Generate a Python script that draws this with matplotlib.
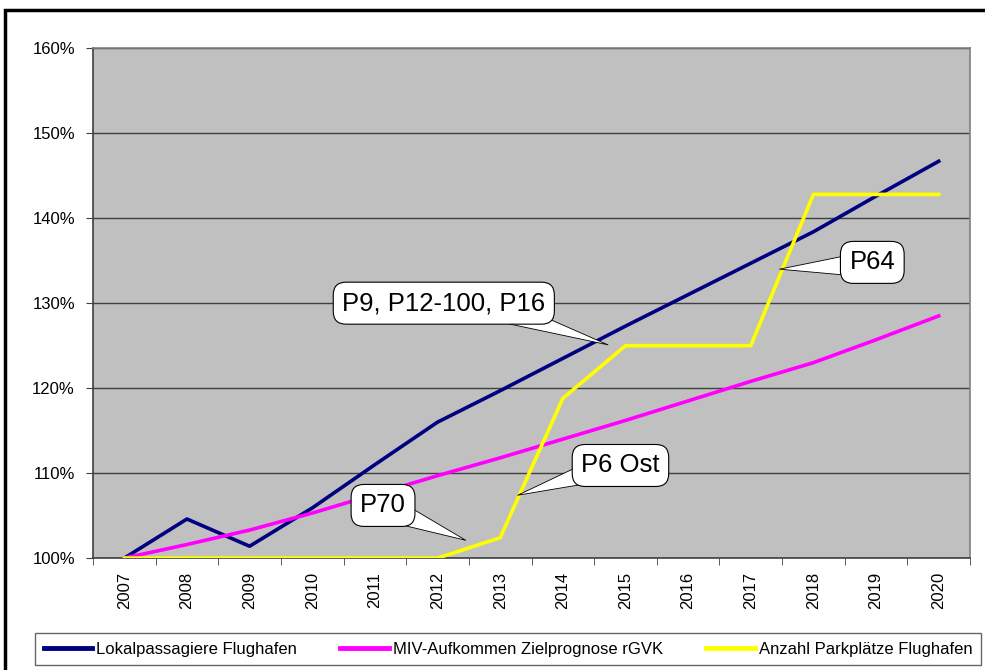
import matplotlib
matplotlib.use("Agg")
import matplotlib.pyplot as plt
from matplotlib.patches import Rectangle
from matplotlib.ticker import FuncFormatter, FixedLocator

plt.rcParams['font.family'] = ['Liberation Sans', 'DejaVu Sans']

years = ['2007', '2008', '2009', '2010', '2011', '2012', '2013',
         '2014', '2015', '2016', '2017', '2018', '2019', '2020']
lokalpassagiere = [100, 104.6, 101.4, 105.9, 111.0, 116.0, 119.7,
                   123.5, 127.3, 131.0, 134.7, 138.4, 142.6, 146.7]
miv = [100, 101.6, 103.3, 105.3, 107.5, 109.7, 111.8,
       114.0, 116.2, 118.5, 120.8, 123.0, 125.7, 128.5]
parkplaetze = [100, 100, 100, 100, 100, 100, 102.4,
               118.8, 125.0, 125.0, 125.0, 142.8, 142.8, 142.8]
series_names = ['Lokalpassagiere Flughafen', 'MIV-Aufkommen Zielprognose rGVK',
                'Anzahl Parkplätze Flughafen']
callouts = ['P9, P12-100, P16', 'P70', 'P6 Ost', 'P64']

fig = plt.figure(figsize=(9.85, 6.7), dpi=100)
ax = fig.add_axes([0.0944, 0.167, 0.8904, 0.761])
ax.set_facecolor('#C0C0C0')

x = list(range(len(years)))
l1, = ax.plot(x, lokalpassagiere, color='#000080', lw=2.6, zorder=3)
l2, = ax.plot(x, miv, color='#FF00FF', lw=2.6, zorder=3)
l3, = ax.plot(x, parkplaetze, color='#FFFF00', lw=2.6, zorder=3)

ax.set_xlim(-0.5, len(years) - 0.5)
ax.set_ylim(100, 160)
ax.set_yticks([100, 110, 120, 130, 140, 150, 160])
ax.yaxis.set_major_formatter(FuncFormatter(lambda v, p: f'{v:.0f}%'))
ax.yaxis.grid(True, color='#404040', lw=1)
ax.set_axisbelow(True)

ax.set_xticks(x)
ax.set_xticklabels(years, rotation=90, fontsize=12)
ax.tick_params(axis='x', which='major', length=0, pad=10)
ax.xaxis.set_minor_locator(FixedLocator([i + 0.5 for i in range(len(years) - 1)] + [-0.5, len(years) - 0.5]))
ax.tick_params(axis='x', which='minor', length=5, color='#404040')
ax.tick_params(axis='y', length=5, color='#404040', labelsize=12, pad=8)

for s in ['left', 'bottom']:
    ax.spines[s].set_color('#404040')
    ax.spines[s].set_linewidth(1.2)
for s in ['top', 'right']:
    ax.spines[s].set_color('#808080')
    ax.spines[s].set_linewidth(1.2)

bbox = dict(boxstyle='round,pad=0.35,rounding_size=0.5', fc='white', ec='black', lw=0.8)
positions = [((7.72, 125.1), (5.1, 130.0)),
             ((5.45, 102.1), (4.13, 106.2)),
             ((6.28, 107.4), (7.92, 110.9)),
             ((10.46, 134.0), (11.94, 134.8))]
relposes = [(0.78, 0.2), (0.75, 0.25), (0.2, 0.3), (0.2, 0.4)]
for txt, (xy, xyt), rp in zip(callouts, positions, relposes):
    arrow = dict(arrowstyle='wedge,tail_width=0.9,shrink_factor=0.5', fc='white',
                 ec='black', lw=0.6, patchA=None, shrinkA=0, shrinkB=0, relpos=rp)
    ax.annotate(txt, xy=xy, xytext=xyt, fontsize=18.5, ha='center', va='center',
                bbox=bbox, arrowprops=arrow, zorder=5)

leg = fig.legend([l1, l2, l3], series_names, ncol=3, loc='center',
                 bbox_to_anchor=(0.5157, 0.0313), fontsize=12, frameon=True,
                 fancybox=False, edgecolor='#404040', handlelength=2.9,
                 columnspacing=2.6, handletextpad=0.25, borderpad=0.5)
leg.get_frame().set_linewidth(1.0)
for h in leg.get_lines():
    h.set_linewidth(3.5)

fig.patches.append(Rectangle((5 / 985, -0.1), 1.2, 1 - 10 / 670 + 0.1,
                             transform=fig.transFigure, fill=False, ec='black', lw=2.5))

fig.savefig('out.png', dpi=100)
